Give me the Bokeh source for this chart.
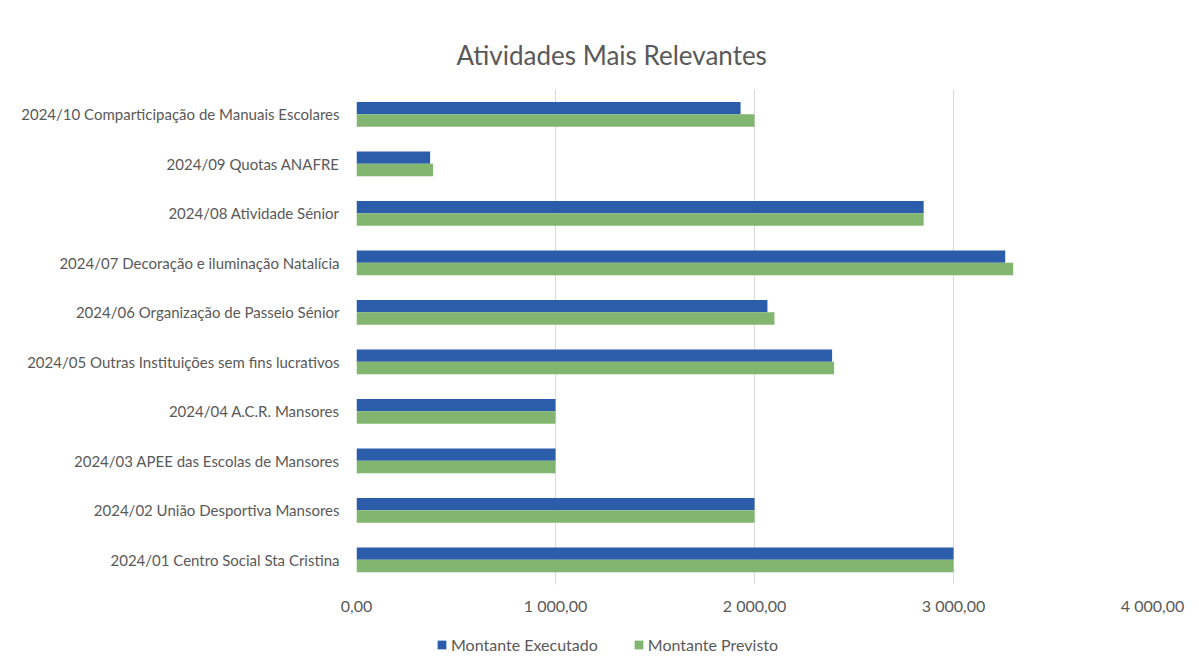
from bokeh.plotting import figure
from bokeh.layouts import column
from bokeh.models import ColumnDataSource, FactorRange, Range1d, Legend, LegendItem, FixedTicker, CustomJSTickFormatter
from bokeh.transform import dodge
from bokeh.embed import file_html
from bokeh.resources import INLINE

categories = [
    "2024/01 Centro Social Sta Cristina",
    "2024/02 União Desportiva Mansores",
    "2024/03 APEE das Escolas de Mansores",
    "2024/04 A.C.R. Mansores",
    "2024/05 Outras Instituições sem fins lucrativos",
    "2024/06 Organização de Passeio Sénior",
    "2024/07 Decoração e iluminação Natalícia",
    "2024/08 Atividade Sénior",
    "2024/09 Quotas ANAFRE",
    "2024/10 Comparticipação de Manuais Escolares",
]
executado = [3000, 2000, 1000, 1000, 2390, 2065, 3260, 2850, 370, 1930]
previsto = [3000, 2000, 1000, 1000, 2400, 2100, 3300, 2850, 385, 2000]
x_ticks = [0, 1000, 2000, 3000, 4000]
series_names = ["Montante Executado", "Montante Previsto"]

FONT = "Lato"
GREY = "#595959"
BLUE = "#2C5DAA"
GREEN = "#82B56F"

src = ColumnDataSource(dict(cat=categories, exe=executado, prev=previsto))

p = figure(width=1199, height=628, output_backend="svg", toolbar_location=None,
           y_range=FactorRange(factors=categories), x_range=Range1d(0, 4000),
           min_border_left=356, min_border_right=47, min_border_top=89, min_border_bottom=44)
p.outline_line_color = None
p.background_fill_color = "white"

r1 = p.hbar(y=dodge("cat", 0.125, range=p.y_range), right="exe", left=0, height=0.25,
            source=src, fill_color=BLUE, line_color=None)
r2 = p.hbar(y=dodge("cat", -0.125, range=p.y_range), right="prev", left=0, height=0.25,
            source=src, fill_color=GREEN, line_color=None)

p.title.text = "Atividades Mais Relevantes"
p.title.text_font = FONT
p.title.text_font_size = "26px"
p.title.text_font_style = "normal"
p.title.text_color = GREY
p.title.align = "left"
p.title.offset = 100
p.title.standoff = 37

p.xaxis.ticker = FixedTicker(ticks=x_ticks)
p.xaxis.formatter = CustomJSTickFormatter(code="""
const s = tick.toFixed(0);
const parts = s.replace(/\\B(?=(\\d{3})+(?!\\d))/g, ' ');
return parts + ',00';
""")
p.xaxis.axis_line_color = None
p.xaxis.major_tick_line_color = None
p.xaxis.minor_tick_line_color = None
p.xaxis.major_label_text_font = FONT
p.xaxis.major_label_text_font_size = "16px"
p.xaxis.major_label_text_color = GREY
p.xaxis.major_label_standoff = 5

p.yaxis.axis_line_color = None
p.yaxis.major_tick_line_color = None
p.yaxis.minor_tick_line_color = None
p.yaxis.major_label_text_font = FONT
p.yaxis.major_label_text_font_size = "15px"
p.yaxis.major_label_text_color = GREY
p.yaxis.major_label_standoff = 11

p.ygrid.grid_line_color = None
p.xgrid.grid_line_color = "#d9d9d9"
p.xgrid.grid_line_width = 1

# legend strip below the chart (its frame is aligned with the chart's frame)
q = figure(width=1199, height=40, output_backend="svg", toolbar_location=None,
           x_range=FactorRange(factors=series_names), y_range=Range1d(0, 1),
           min_border_left=356, min_border_right=47, min_border_top=0, min_border_bottom=0)
q.axis.visible = False
q.grid.visible = False
q.outline_line_color = None
key_src = ColumnDataSource(dict(name=series_names, zero=[0, 0]))
l1 = q.vbar(x="name", top="zero", bottom="zero", width=0.1, source=key_src,
            fill_color=BLUE, line_color=None)
l2 = q.vbar(x="name", top="zero", bottom="zero", width=0.1, source=key_src,
            fill_color=GREEN, line_color=None)

legend = Legend(items=[LegendItem(label=series_names[0], renderers=[l1], index=0),
                       LegendItem(label=series_names[1], renderers=[l2], index=1)],
                orientation="horizontal", location=(80, 14))
legend.label_text_font = FONT
legend.label_text_font_size = "16px"
legend.label_text_color = GREY
legend.glyph_width = 11
legend.glyph_height = 11
legend.label_standoff = 4
legend.spacing = 35
legend.border_line_color = None
legend.background_fill_alpha = 0
legend.padding = 0
legend.margin = 0
q.add_layout(legend, "center")

layout = column(p, q, spacing=0)
open("out.html", "w").write(file_html(layout, INLINE))
